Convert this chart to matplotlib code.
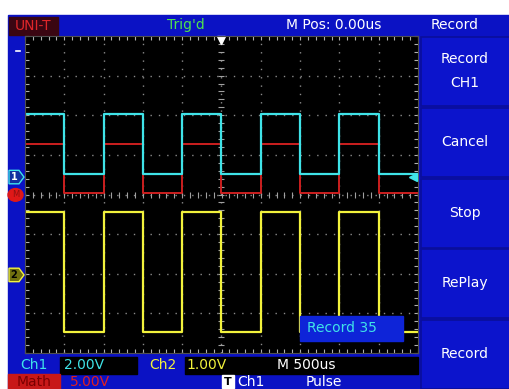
import numpy as np
import matplotlib.pyplot as plt
from matplotlib.patches import Rectangle, Polygon, Ellipse
import matplotlib.transforms as mtransforms

plt.rcParams['lines.scale_dashes'] = False
plt.rcParams['font.family'] = ['DejaVu Sans']

# Datos de la pantalla (500 us/div, 10 div horizontales, 8 verticales)
tiempo_div_us = 500
n_div_x = 10
n_div_y = 8

# Flancos de las señales (ms); la señal empieza en nivel alto
flancos_ms = [-2.0, -1.5, -1.0, -0.5, 0.0, 0.5, 1.0, 1.5, 2.0]

# Canal 1 (cian)
ch1_escala = 2.0      # V/div
ch1_cero_div = 0.44
ch1_alto, ch1_bajo = 3.2, 0.16

# Canal 2 (amarillo)
ch2_escala = 1.0
ch2_cero_div = -2.03
ch2_alto, ch2_bajo = 1.6, -1.44

# Math (rojo)
math_escala = 5.0
math_cero_div = -0.01
math_alto, math_bajo = 6.45, 0.25

etiquetas_menu = ["Record\n\nCH1", "Cancel", "Stop", "RePlay", "Record"]

AZUL = '#0b12c4'
AZUL_OSC = '#0a0e9a'
CIAN = '#3fe3e8'
ROJO = '#cc1f1f'
AMARILLO = '#f2f23c'
GRIS = '#8a8a8a'
FS = 10


def onda_cuadrada(alto, bajo, escala, cero):
    t_min = -tiempo_div_us * n_div_x / 2000
    t_max = -t_min
    bordes = np.array(flancos_ms)
    t = np.concatenate([[t_min], np.repeat(bordes, 2), [t_max]])
    estado = np.arange(len(bordes) + 1) % 2 == 0
    v = np.repeat(np.where(estado, alto, bajo), 2)
    return t, v / escala + cero


fig = plt.figure(figsize=(5.10, 3.89), dpi=100)
fig.patch.set_facecolor('white')

# Fondo en coordenadas de pixel
bg = fig.add_axes([0, 0, 1, 1])
bg.set_xlim(0, 510)
bg.set_ylim(389, 0)
bg.axis('off')
bg.add_patch(Rectangle((8, 15), 502, 374, color=AZUL))

# Menu derecho
cajas_y = [37, 108, 179, 249, 320]
for y0, texto in zip(cajas_y, etiquetas_menu):
    bg.add_patch(Rectangle((421, y0), 89, 69, facecolor='#0c14cc',
                           edgecolor=AZUL_OSC, lw=1.2))
    bg.text(465, y0 + 34, texto, color='white', fontsize=FS,
            ha='center', va='center', linespacing=0.85)

# Barra superior
bg.add_patch(Rectangle((9, 17), 49, 18, color='#3a0612'))
bg.text(33, 26, "UNI-T", color='#e0262a', fontsize=FS, ha='center', va='center')
bg.text(186, 25, "Trig'd", color='#4fe04f', fontsize=FS, ha='center', va='center')
bg.text(334, 25, "M Pos: 0.00us", color='white', fontsize=FS, ha='center', va='center')
bg.text(455, 25, "Record", color='white', fontsize=FS, ha='center', va='center')

# Barra inferior
bg.add_patch(Rectangle((60, 357), 77, 17, color='black'))
bg.add_patch(Rectangle((185, 357), 233, 17, color='black'))
bg.text(34, 365, "Ch1", color=CIAN, fontsize=FS, ha='center', va='center')
bg.text(84, 365, "2.00V", color=CIAN, fontsize=FS, ha='center', va='center')
bg.text(163, 365, "Ch2", color=AMARILLO, fontsize=FS, ha='center', va='center')
bg.text(207, 365, "1.00V", color=AMARILLO, fontsize=FS, ha='center', va='center')
bg.text(306, 365, "M 500us", color='white', fontsize=FS, ha='center', va='center')
bg.add_patch(Rectangle((8, 374), 52, 15, color='#c81818'))
bg.text(34, 382, "Math", color='#7a0000', fontsize=FS, ha='center', va='center')
bg.text(90, 382, "5.00V", color='#e02020', fontsize=FS, ha='center', va='center')
bg.add_patch(Rectangle((222, 375), 12, 13, color='white'))
bg.text(228, 382, "T", color='black', fontsize=8, ha='center', va='center',
        fontweight='bold')
bg.text(251, 382, "Ch1", color='white', fontsize=FS, ha='center', va='center')
bg.text(324, 382, "Pulse", color='white', fontsize=FS, ha='center', va='center')

# Pantalla del osciloscopio
izq, der, arr, aba = 25, 418, 36, 353
ax = fig.add_axes([izq / 510, 1 - aba / 389, (der - izq) / 510, (aba - arr) / 389])
ax.set_facecolor('black')
t_lim = tiempo_div_us * n_div_x / 2000
ax.set_xlim(-t_lim, t_lim)
ax.set_ylim(-n_div_y / 2, n_div_y / 2)
for s in ax.spines.values():
    s.set_color('#505050')
    s.set_linewidth(0.8)

paso_x = tiempo_div_us / 1000
for xv in np.arange(-t_lim + paso_x, t_lim, paso_x):
    ax.axvline(xv, color=GRIS, lw=1.0, ls=(0, (1, 5)))
for yv in range(-n_div_y // 2 + 1, n_div_y // 2):
    ax.axhline(yv, color=GRIS, lw=1.0, ls=(0, (1, 5)))

ax.set_xticks(np.arange(-t_lim, t_lim + 1e-9, paso_x / 5))
ax.set_yticks(np.arange(-n_div_y / 2, n_div_y / 2 + 1e-9, 0.2))
ax.tick_params(direction='in', length=3, width=0.8, color='#b0b0b0',
               top=True, right=True, labelleft=False, labelbottom=False)
# Marcas del eje central
xs = np.arange(-t_lim, t_lim + 1e-9, paso_x / 5)
ax.plot(xs, np.zeros_like(xs), ls='none', marker='|', ms=4, color='#a0a0a0', mew=0.8)
ys = np.arange(-n_div_y / 2, n_div_y / 2 + 1e-9, 0.2)
ax.plot(np.zeros_like(ys), ys, ls='none', marker='_', ms=4, color='#a0a0a0', mew=0.8)

# Trazas
t1, y1 = onda_cuadrada(ch1_alto, ch1_bajo, ch1_escala, ch1_cero_div)
tm, ym = onda_cuadrada(math_alto, math_bajo, math_escala, math_cero_div)
t2, y2 = onda_cuadrada(ch2_alto, ch2_bajo, ch2_escala, ch2_cero_div)
ax.plot(tm, ym, color=ROJO, lw=1.4)
ax.plot(t1, y1, color=CIAN, lw=1.6)
ax.plot(t2, y2, color=AMARILLO, lw=1.6)

# Marcador de disparo arriba
ax.plot([0], [n_div_y / 2 - 0.1], marker='v', ms=6, color='white', clip_on=False)

# Cuadro "Record 35" (sobre la pantalla, en pixeles)
ax.add_patch(Rectangle((300, 316), 103, 25, color='#0e24d8', zorder=5,
                       transform=bg.transData, clip_on=False))
ax.text(307, 328, "Record 35", color=CIAN, fontsize=FS, va='center', ha='left',
        zorder=6, transform=bg.transData)

# Marcadores de canal a la izquierda
trans = mtransforms.blended_transform_factory(bg.transData, ax.transData)
for cero, color, txt in [(ch1_cero_div, CIAN, "1"), (ch2_cero_div, AMARILLO, "2")]:
    bg.add_patch(Polygon([[9, cero + 0.17], [19, cero + 0.17], [24, cero],
                          [19, cero - 0.17], [9, cero - 0.17]],
                         closed=True, fc='#1030a0' if txt == "1" else '#707010',
                         ec=color, lw=1, transform=trans, clip_on=False))
    bg.text(14, cero, txt, color='white' if txt == "1" else 'black', fontsize=7,
            ha='center', va='center', transform=trans, fontweight='bold')
bg.add_patch(Ellipse((15.5, math_cero_div), 15, 0.32, color='#e01818',
                     transform=trans, clip_on=False))
bg.text(15.5, math_cero_div, "M", color='#901010', fontsize=6, ha='center',
        va='center', transform=trans)
# Nivel de disparo a la derecha
ax.plot([413], [ch1_cero_div], marker='<', ms=6, color=CIAN, transform=trans,
        clip_on=False, zorder=6)
bg.plot([16, 20], [51, 51], color='white', lw=1.2)

fig.savefig('out.png', dpi=100, facecolor='white')
